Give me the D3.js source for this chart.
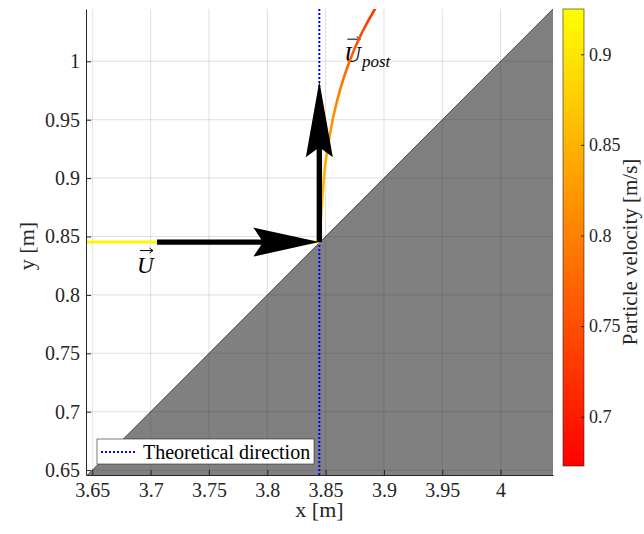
<!DOCTYPE html>
<html>
<head>
<meta charset="utf-8">
<script src="https://cdn.jsdelivr.net/npm/d3@7"></script>
</head>
<body style="margin:0;background:#fff">
<div id="chart"></div>
<script>
// ---- data ----
const xTicks = [3.65, 3.7, 3.75, 3.8, 3.85, 3.9, 3.95, 4];
const yTicks = [0.65, 0.7, 0.75, 0.8, 0.85, 0.9, 0.95, 1];
const cbTicks = [0.7, 0.75, 0.8, 0.85, 0.9];

// incoming particle (horizontal)
const inX = [3.60, 3.70, 3.80, 3.8446];
const inY = [0.8452, 0.8452, 0.8452, 0.8452];
const inV = [0.915, 0.915, 0.915, 0.915];

// rebound trajectory
const outX = [3.8446, 3.8458, 3.8471, 3.8495, 3.8529, 3.8566, 3.8623, 3.8709, 3.8809, 3.8923, 3.8990];
const outY = [0.8452, 0.862, 0.8813, 0.9098, 0.9326, 0.9526, 0.9754, 1.0011, 1.024, 1.0448, 1.055];
const outV = [0.875, 0.87, 0.86, 0.845, 0.83, 0.815, 0.795, 0.77, 0.745, 0.72, 0.71];

// wall (grey region below y = x - 3)
const wallX = [3.60, 4.10, 4.10];
const wallY = [0.60, 1.10, 0.60];

// theoretical direction
const theoX = 3.8446;

// velocity arrows
const arrowTailX = [3.7055, 3.8446];
const arrowTailY = [0.8452, 0.8452];
const arrowTipX = [3.8446, 3.8446];
const arrowTipY = [0.8452, 0.983];

// text labels
const labelX = [3.6883, 3.866];
const labelY = [0.8187, 0.9997];
const labelSub = ["", "post"];

const cbMin = 0.6728, cbMax = 0.925;

// ---- layout ----
const width = 644, height = 534;
const plot = { left: 86, right: 553, top: 9, bottom: 475 };
const cb = { left: 563, right: 584, top: 9, bottom: 466 };
const serif = '"Liberation Serif"';

const svg = d3.select("#chart").append("svg")
    .attr("width", width)
    .attr("height", height);

const x = d3.scaleLinear().domain([3.6446, 4.0449]).range([plot.left, plot.right]);
const y = d3.scaleLinear().domain([0.6458, 1.0448]).range([plot.bottom, plot.top]);
const color = d3.scaleLinear().domain([cbMin, cbMax]).range(["#ff0000", "#ffff00"]).clamp(true);

const defs = svg.append("defs");
defs.append("clipPath").attr("id", "clip")
  .append("rect")
    .attr("x", plot.left).attr("y", plot.top)
    .attr("width", plot.right - plot.left).attr("height", plot.bottom - plot.top);

const g = svg.append("g").attr("clip-path", "url(#clip)");

// wall
g.append("path")
    .attr("d", d3.line()(wallX.map((d, i) => [x(d), y(wallY[i])])) + "Z")
    .attr("fill", "#808080")
    .attr("stroke", "#333")
    .attr("stroke-width", 0.8);

// grid
g.selectAll(".gx").data(xTicks).join("line")
    .attr("x1", d => x(d)).attr("x2", d => x(d))
    .attr("y1", plot.top).attr("y2", plot.bottom)
    .attr("stroke", "#262626").attr("stroke-opacity", 0.14);
g.selectAll(".gy").data(yTicks).join("line")
    .attr("y1", d => y(d)).attr("y2", d => y(d))
    .attr("x1", plot.left).attr("x2", plot.right)
    .attr("stroke", "#262626").attr("stroke-opacity", 0.14);

// theoretical direction
g.append("line")
    .attr("x1", x(theoX)).attr("x2", x(theoX))
    .attr("y1", plot.top).attr("y2", plot.bottom)
    .attr("stroke", "#0000ff")
    .attr("stroke-width", 2)
    .attr("stroke-dasharray", "2,2");

// labels (under the trajectory)
const labels = g.selectAll(".lbl").data(labelX).join("g").attr("class", "lbl");
labels.append("text")
    .attr("x", (d) => x(d))
    .attr("y", (d, i) => y(labelY[i]))
    .style("font-family", serif)
    .style("font-size", "23px")
    .style("font-style", "italic")
    .style("fill", "#000")
    .text("U")
  .append("tspan")
    .attr("dx", 1)
    .attr("dy", 5)
    .style("font-size", "17px")
    .text((d, i) => labelSub[i]);
labels.append("path")
    .attr("d", (d, i) => {
      const x0 = x(d) + 3, x1 = x(d) + 16, yy = y(labelY[i]) - 22.5;
      return `M${x0},${yy}L${x1},${yy}M${x1 - 3.5},${yy - 2.5}L${x1},${yy}L${x1 - 3.5},${yy + 2.5}`;
    })
    .attr("fill", "none")
    .attr("stroke", "#000")
    .attr("stroke-width", 1);

// trajectory: incoming
g.append("path")
    .attr("d", d3.line()(inX.map((d, i) => [x(d), y(inY[i])])))
    .attr("fill", "none")
    .attr("stroke", color(d3.mean(inV)))
    .attr("stroke-width", 3);

// trajectory: rebound, coloured by velocity
const y1g = y(outY[0]), y2g = y(outY[outY.length - 1]);
const grad = defs.append("linearGradient")
    .attr("id", "trajGrad")
    .attr("gradientUnits", "userSpaceOnUse")
    .attr("x1", 0).attr("x2", 0)
    .attr("y1", y1g).attr("y2", y2g);
grad.selectAll("stop").data(outV).join("stop")
    .attr("offset", (d, i) => (y(outY[i]) - y1g) / (y2g - y1g))
    .attr("stop-color", d => color(d));
g.append("path")
    .attr("d", d3.line().curve(d3.curveCatmullRom)(outX.map((d, i) => [x(d), y(outY[i])])))
    .attr("fill", "none")
    .attr("stroke", "url(#trajGrad)")
    .attr("stroke-width", 2.6);

// arrows
const headLen = [66, 76], headHalf = [14.5, 13.5];
function arrowPath(i) {
  const tx = x(arrowTailX[i]), ty = y(arrowTailY[i]);
  const hx = x(arrowTipX[i]), hy = y(arrowTipY[i]);
  const len = Math.hypot(hx - tx, hy - ty);
  const ux = (hx - tx) / len, uy = (hy - ty) / len;
  const px = -uy, py = ux;
  const w = 2.7, L = headLen[i], H = headHalf[i], n = 8;
  const pt = (a, b) => [hx - ux * a + px * b, hy - uy * a + py * b];
  const pts = [
    [tx + px * w, ty + py * w], pt(L - n, w), pt(L, H), [hx, hy],
    pt(L, -H), pt(L - n, -w), [tx - px * w, ty - py * w]
  ];
  return d3.line()(pts) + "Z";
}
g.selectAll(".arrow").data(arrowTailX).join("path")
    .attr("d", (d, i) => arrowPath(i))
    .attr("fill", "#000");

// axes
const xAxis = svg.append("g")
    .attr("transform", `translate(0,${plot.bottom})`)
    .call(d3.axisBottom(x).tickValues(xTicks).tickSizeInner(-5).tickSizeOuter(0).tickPadding(8)
      .tickFormat(d3.format("")));
const yAxis = svg.append("g")
    .attr("transform", `translate(${plot.left},0)`)
    .call(d3.axisLeft(y).tickValues(yTicks).tickSizeInner(-5).tickSizeOuter(0).tickPadding(6)
      .tickFormat(d3.format("")));
[xAxis, yAxis].forEach(a => {
  a.select(".domain").attr("stroke", "#262626");
  a.selectAll(".tick line").attr("stroke", "#262626");
  a.selectAll(".tick text")
      .style("font-family", serif)
      .style("font-size", "20px")
      .attr("fill", "#262626");
});

svg.append("text")
    .attr("x", (plot.left + plot.right) / 2)
    .attr("y", 517)
    .attr("text-anchor", "middle")
    .style("font-family", serif)
    .style("font-size", "22px")
    .style("fill", "#262626")
    .text("x [m]");
svg.append("text")
    .attr("transform", "translate(26,246) rotate(-90)")
    .attr("text-anchor", "middle")
    .attr("dy", "0.35em")
    .style("font-family", serif)
    .style("font-size", "22px")
    .style("fill", "#262626")
    .text("y [m]");

// legend
const leg = svg.append("g");
leg.append("rect")
    .attr("x", 97).attr("y", 439).attr("width", 217).attr("height", 25)
    .attr("fill", "#fff").attr("stroke", "#262626").attr("stroke-width", 0.6);
leg.append("line")
    .attr("x1", 101).attr("x2", 137).attr("y1", 452).attr("y2", 452)
    .attr("stroke", "#0000ff").attr("stroke-width", 2).attr("stroke-dasharray", "2,2");
leg.append("text")
    .attr("x", 143).attr("y", 452).attr("dy", "0.35em")
    .style("font-family", serif)
    .style("font-size", "20px").style("fill", "#000")
    .text("Theoretical direction");

// colorbar
const cbScale = d3.scaleLinear().domain([cbMin, cbMax]).range([cb.bottom, cb.top]);
const cbGrad = defs.append("linearGradient")
    .attr("id", "cbGrad").attr("x1", 0).attr("x2", 0).attr("y1", 1).attr("y2", 0);
cbGrad.selectAll("stop").data([cbMin, cbMax]).join("stop")
    .attr("offset", (d, i) => i)
    .attr("stop-color", d => color(d));
svg.append("rect")
    .attr("x", cb.left).attr("y", cb.top)
    .attr("width", cb.right - cb.left).attr("height", cb.bottom - cb.top)
    .attr("fill", "url(#cbGrad)")
    .attr("stroke", "#262626").attr("stroke-width", 0.6);
const cbAxis = svg.append("g")
    .attr("transform", `translate(${cb.right},0)`)
    .call(d3.axisRight(cbScale).tickValues(cbTicks).tickSizeInner(-3).tickSizeOuter(0).tickPadding(5)
      .tickFormat(d3.format("")));
cbAxis.select(".domain").remove();
cbAxis.selectAll(".tick line").attr("stroke", "#262626");
cbAxis.selectAll(".tick text")
    .style("font-family", serif)
    .style("font-size", "18px")
    .attr("fill", "#262626");

svg.append("text")
    .attr("transform", "translate(630,252) rotate(-90)")
    .attr("text-anchor", "middle")
    .attr("dy", "0.35em")
    .style("font-family", serif)
    .style("font-size", "21px")
    .style("fill", "#262626")
    .text("Particle velocity [m/s]");
</script>
</body>
</html>
